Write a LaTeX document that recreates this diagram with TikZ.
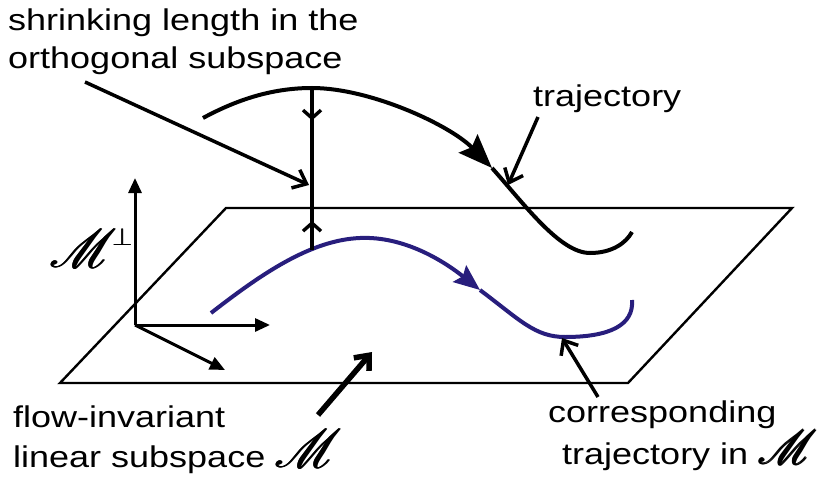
\documentclass[tikz,border=0pt]{standalone}
\usepackage{fontspec}
\setmainfont{Liberation Sans}[FakeStretch=1.2]
\usepackage{amsmath}
\usepackage{mathrsfs}
\DeclareFontFamily{U}{rsfs}{\skewchar\font127 }
\DeclareFontShape{U}{rsfs}{m}{n}{<-> rsfs10}{}
\usetikzlibrary{arrows.meta}
\usetikzlibrary{calc}
\definecolor{navyblue}{RGB}{40, 30, 125}
\newcommand{\manifoldM}[1][54]{{\fontsize{#1}{#1}\selectfont$\pmb{\mathscr{M}}$}}

\begin{document}
\begin{tikzpicture}[x=1pt, y=-1pt,
    plane/.style={line width=2.4pt, line join=miter},
    curve/.style={line width=4pt},
    axisarrow/.style={line width=3pt, -{Triangle[length=15pt, width=13pt]}},
    pointer/.style={line width=3.5pt, -{Straight Barb[length=12pt, width=20pt]}},
    shrinktip/.style={line width=3.4pt, -{Straight Barb[length=8pt, width=18pt]}},
    textlabel/.style={inner sep=0pt, align=left, font=\fontsize{30}{38}\selectfont}]
        \useasboundingbox (0,0) rectangle (819,484);
        % ebene M (parallelogramm)
        \draw[plane] (226,208) coordinate (pNW) -- (792,208) coordinate (pNE)
            -- (628,383) coordinate (pSE) -- (60,383) coordinate (pSW) -- cycle;
        % achsen
        \coordinate (origin) at (135,325);
        \coordinate (perpend) at (135,178);
        \coordinate (xend) at (270,325);
        \coordinate (yend) at (225,370);
        \draw[axisarrow] (origin) -- (perpend);
        \draw[axisarrow] (origin) -- (xend);
        \draw[axisarrow] (origin) -- (yend);
        % trajektorie
        \coordinate (tstart) at (203,118);
        \coordinate (ttop) at (312,88);
        \coordinate (tmid) at (492,168);
        \coordinate (tend) at (632,232);
        \draw[curve, -{Stealth[length=34pt, width=26pt, inset=5pt]}] (tstart)
            .. controls (240,98) and (275,88) .. (ttop)
            .. controls (370,88) and (450,125) .. (tmid);
        \draw[curve] (tmid) .. controls (525,205) and (560,253) .. (590,253)
            .. controls (612,253) and (626,243) .. (tend);
        % projizierte trajektorie
        \coordinate (bstart) at (211,313);
        \coordinate (bmid) at (480,290);
        \coordinate (bend) at (632,300);
        \draw[curve, navyblue, -{Stealth[length=26pt, width=21pt, inset=4pt]}] (bstart)
            .. controls (260,275) and (310,240) .. (360,238)
            .. controls (405,236) and (445,262) .. (bmid);
        \draw[curve, navyblue] (bmid) .. controls (520,320) and (535,337) .. (565,337)
            .. controls (610,337) and (634,325) .. (bend);
        % abstand
        \coordinate (bfoot) at (312,250);
        \draw[curve, line width=3.4pt] (ttop) -- (bfoot);
        \draw[shrinktip] ($(ttop)!0.1!(bfoot)$) -- ($(ttop)!0.2!(bfoot)$);
        \draw[shrinktip] ($(ttop)!0.92!(bfoot)$) -- ($(ttop)!0.82!(bfoot)$);
        % beschriftungen
        \node[textlabel, anchor=north west] (shrinklabel) at (8,9)
            {shrinking length in the\\orthogonal subspace};
        \node[textlabel, anchor=base west] (trajlabel) at (533,107) {trajectory};
        \node[textlabel, anchor=north west] (flowlabel) at (13,406)
            {flow-invariant\\linear subspace \manifoldM};
        \node[textlabel, anchor=north west] (corrlabel) at (548,401)
            {corresponding\\\hspace*{14pt}trajectory in \manifoldM[48]};
        \node[inner sep=0pt, anchor=south west] (perplabel) at (50,268)
            {\manifoldM\hspace{-4pt}\raisebox{22pt}{\fontsize{28}{28}\selectfont$\pmb{\perp}$}};
        % pfeile
        \coordinate (shrinktail) at (85,82);
        \coordinate (shrinkhead) at (309,185);
        \coordinate (trajtail) at (538,117);
        \coordinate (trajhead) at (508,185);
        \coordinate (corrtail) at (598,397);
        \coordinate (corrhead) at (562,338);
        \coordinate (flowtail) at (318,415);
        \coordinate (flowhead) at (372,352);
        \draw[pointer] (shrinktail) -- (shrinkhead);
        \draw[pointer] (trajtail) -- (trajhead);
        \draw[pointer] (corrtail) -- (corrhead);
        \draw[pointer, line width=5.5pt] (flowtail) -- (flowhead);
    \end{tikzpicture}
\end{document}
